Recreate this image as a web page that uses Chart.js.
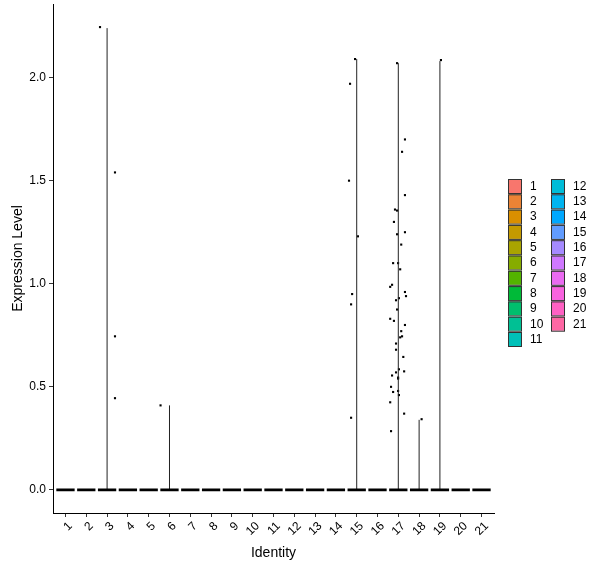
<!DOCTYPE html>
<html>
<head>
<meta charset="utf-8">
<script src="https://cdn.jsdelivr.net/npm/chart.js@4/dist/chart.umd.min.js"></script>
<style>
  html, body { margin: 0; padding: 0; background: #fff; }
  #wrap { width: 600px; height: 568px; }
</style>
</head>
<body>
<div id="wrap"><canvas id="vln"></canvas></div>
<script>
// ---- data ----
const categories = ["1","2","3","4","5","6","7","8","9","10","11","12","13","14","15","16","17","18","19","20","21"];
// top of each violin (most are flat at zero)
const violinMax = [0, 0, 2.24, 0, 0, 0.41, 0, 0, 0, 0, 0, 0, 0, 0, 2.09, 0, 2.07, 0.34, 2.08, 0, 0];
const yTicks = [0, 0.5, 1.0, 1.5, 2.0];
// jittered cells above zero: position on the identity axis, expression value
const cellX = [2.66, 3.38, 3.38, 3.38,
  5.57,
  14.92, 14.68, 14.63, 15.06, 14.78, 14.73, 14.73,
  16.94, 17.32, 17.18, 17.32, 16.84, 16.94, 16.79, 17.32, 16.94, 17.14,
  16.75, 16.99, 17.09, 16.70, 16.61, 17.32, 17.37, 16.89, 17.03, 16.94,
  16.61, 16.79, 17.32, 17.14, 17.18, 17.09, 16.89, 16.89, 17.24, 17.03,
  17.28, 16.89, 16.70, 16.99, 16.99, 16.65, 16.75, 16.99, 17.03, 16.61,
  17.28, 16.65,
  18.12,
  19.05];
const cellY = [2.245, 1.54, 0.745, 0.445,
  0.41,
  2.09, 1.97, 1.50, 1.23, 0.95, 0.90, 0.35,
  2.07, 1.70, 1.64, 1.43, 1.36, 1.355, 1.30, 1.25, 1.24, 1.19,
  1.10, 1.10, 1.07, 0.995, 0.985, 0.96, 0.94, 0.92, 0.93, 0.875,
  0.83, 0.82, 0.80, 0.77, 0.745, 0.74, 0.71, 0.68, 0.645, 0.585,
  0.575, 0.57, 0.555, 0.545, 0.54, 0.50, 0.475, 0.48, 0.46, 0.425,
  0.37, 0.285,
  0.343,
  2.085];

const hueColors = ["#F8766D","#EB8335","#DA8F00","#C49A00","#A9A400","#86AC00","#53B400",
  "#00BA38","#00BE6D","#00C094","#00C0B8","#00BCD8","#00B4F0","#00A8FF",
  "#619CFF","#A58AFF","#CF78FF","#EA6AF1","#F863DF","#FF61C3","#FF67A4"];

const FONT = "'Liberation Sans', Arial, sans-serif";
const violinWidth = 0.88;

// flat bottoms of the violins
const baseSegs = [];
categories.forEach((c, i) => {
  const x = i + 1;
  baseSegs.push({ x: x - violinWidth / 2, y: 0 }, { x: x + violinWidth / 2, y: 0 }, { x: x, y: null });
});
// thin vertical spikes where a violin rises
const spikeSegs = [];
violinMax.forEach((m, i) => {
  if (m > 0) spikeSegs.push({ x: i + 1, y: 0 }, { x: i + 1, y: m }, { x: i + 1, y: null });
});
const cells = cellX.map((x, i) => ({ x: x, y: cellY[i] }));

// ---- legend drawn at the side, two columns ----
const sideLegend = {
  id: "sideLegend",
  afterDraw(chart) {
    const ctx = chart.ctx;
    ctx.save();
    ctx.font = "12px " + FONT;
    ctx.textBaseline = "middle";
    ctx.textAlign = "left";
    categories.forEach((c, i) => {
      const col = i < 11 ? 0 : 1;
      const row = i < 11 ? i : i - 11;
      const bx = 508 + col * 43;
      const by = 179 + row * 15.3;
      ctx.fillStyle = hueColors[i];
      ctx.fillRect(bx, by, 14, 14);
      ctx.strokeStyle = "#333";
      ctx.lineWidth = 1;
      ctx.strokeRect(bx + 0.5, by + 0.5, 13, 14);
      ctx.fillStyle = "#000";
      ctx.fillText(c, bx + 22, by + 7.5);
    });
    ctx.restore();
  }
};

new Chart(document.getElementById("vln"), {
  type: "line",
  data: {
    datasets: [
      {
        data: baseSegs, borderColor: "#000", borderWidth: 2.8,
        pointRadius: 0, spanGaps: false, borderCapStyle: "butt"
      },
      {
        data: spikeSegs, borderColor: "#222", borderWidth: 1,
        pointRadius: 0, spanGaps: false
      },
      {
        type: "scatter", data: cells, pointStyle: "rect",
        pointRadius: 1.5, backgroundColor: "#000", borderColor: "#000", borderWidth: 0
      }
    ]
  },
  options: {
    responsive: true,
    maintainAspectRatio: false,
    animation: false,
    layout: { padding: { top: 3, right: 106, left: 0, bottom: 0 } },
    plugins: { legend: { display: false }, tooltip: { enabled: false } },
    scales: {
      x: {
        type: "linear", min: 0.4, max: 21.6,
        afterBuildTicks: (s) => { s.ticks = categories.map((c, i) => ({ value: i + 1 })); },
        afterFit: (s) => { s.height = 55; s.paddingLeft = 0; s.paddingRight = 0; },
        grid: { drawOnChartArea: false, drawTicks: true, tickLength: 4, color: "#333" },
        border: { display: true, color: "#000", width: 1 },
        ticks: {
          autoSkip: false, minRotation: 45, maxRotation: 45, padding: 2, labelOffset: 5,
          color: "#000", font: { family: FONT, size: 12 },
          callback: (v) => categories[Math.round(v) - 1]
        },
        title: { display: true, text: "Identity", color: "#000", font: { family: FONT, size: 14 }, padding: { top: 0, bottom: 6 } }
      },
      y: {
        min: -0.112, max: 2.357,
        afterBuildTicks: (s) => { s.ticks = yTicks.map((v) => ({ value: v })); },
        afterFit: (s) => { s.width = 53; s.paddingTop = 0; s.paddingBottom = 0; },
        grid: { drawOnChartArea: false, drawTicks: true, tickLength: 4, color: "#333" },
        border: { display: true, color: "#000", width: 1 },
        ticks: {
          color: "#000", font: { family: FONT, size: 12 }, padding: 3,
          callback: (v) => v.toFixed(1)
        },
        title: { display: true, text: "Expression Level", color: "#000", font: { family: FONT, size: 14 }, padding: { top: 10, bottom: 0 } }
      }
    }
  },
  plugins: [sideLegend]
});
</script>
</body>
</html>
